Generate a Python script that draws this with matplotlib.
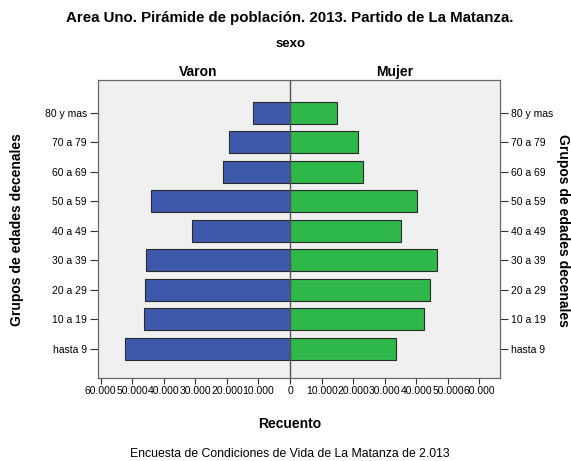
import numpy as np
import matplotlib.pyplot as plt
from matplotlib.ticker import FuncFormatter

plt.rcParams['font.family'] = ['Liberation Sans', 'DejaVu Sans']

# -----------------------
# Data
# -----------------------
groups = ["hasta 9", "10 a 19", "20 a 29", "30 a 39", "40 a 49",
          "50 a 59", "60 a 69", "70 a 79", "80 y mas"]
varon = [52300, 46300, 45800, 45500, 30900, 43900, 21100, 19200, 11800]
mujer = [33500, 42300, 44400, 46400, 35000, 40300, 23100, 21500, 14800]
xticks = [-60000, -50000, -40000, -30000, -20000, -10000, 0,
          10000, 20000, 30000, 40000, 50000, 60000]

BLUE = "#3e58ac"
GREEN = "#2eb84a"
EDGE = "#2a2a2a"

fig = plt.figure(figsize=(5.71, 4.61), dpi=100)
ax = fig.add_axes([0.1716, 0.18, 0.8757 - 0.1716, 0.8265 - 0.18])
ax.set_facecolor("#f0f0f0")

y = np.arange(len(groups))
ax.barh(y, [-v for v in varon], height=0.75, color=BLUE, edgecolor=EDGE, linewidth=0.8)
ax.barh(y, mujer, height=0.75, color=GREEN, edgecolor=EDGE, linewidth=0.8)
ax.axvline(0, color="#555555", linewidth=1.0)

ax.set_xlim(-60800, 66500)
ax.set_ylim(-1.0, 9.12)
ax.set_xticks(xticks)


# SPSS style labels: absolute value, thousands as "10.000"
def fmt(v, pos):
    v = abs(int(round(v)))
    if v == 0:
        return "0"
    return "{:.3f}".format(v / 1000)


ax.xaxis.set_major_formatter(FuncFormatter(fmt))
ax.set_yticks(y)
ax.set_yticklabels(groups)
ax.tick_params(axis="x", labelsize=7.5, length=4, color="#333333", pad=2)
ax.tick_params(axis="y", labelsize=7.5, length=6, color="#333333", pad=2)

ax2 = ax.twinx()
ax2.set_ylim(ax.get_ylim())
ax2.set_yticks(y)
ax2.set_yticklabels(groups)
ax2.tick_params(axis="y", labelsize=7.5, length=6, color="#333333", pad=2)

for a in (ax, ax2):
    for s in a.spines.values():
        s.set_color("#666666")
        s.set_linewidth(0.8)

# texts
fig.text(0.508, 0.962, "Area Uno. Pirámide de población. 2013. Partido de La Matanza.",
         ha="center", va="center", fontsize=10.8, fontweight="bold")
fig.text(0.508, 0.905, "sexo", ha="center", va="center", fontsize=9.5, fontweight="bold")
fig.text(198 / 571, 1 - 72 / 461, "Varon", ha="center", va="center", fontsize=10, fontweight="bold")
fig.text(395 / 571, 1 - 72 / 461, "Mujer", ha="center", va="center", fontsize=10, fontweight="bold")
fig.text(17 / 571, 1 - 230 / 461, "Grupos de edades decenales", ha="center", va="center",
         rotation=90, fontsize=10, fontweight="bold")
fig.text(563 / 571, 1 - 230 / 461, "Grupos de edades decenales", ha="center", va="center",
         rotation=270, fontsize=10, fontweight="bold")
fig.text(290 / 571, 1 - 424 / 461, "Recuento", ha="center", va="center", fontsize=10, fontweight="bold")
fig.text(290 / 571, 1 - 454 / 461, "Encuesta de Condiciones de Vida de La Matanza de 2.013",
         ha="center", va="center", fontsize=8.8)

fig.savefig("out.png", dpi=100, facecolor="white")
